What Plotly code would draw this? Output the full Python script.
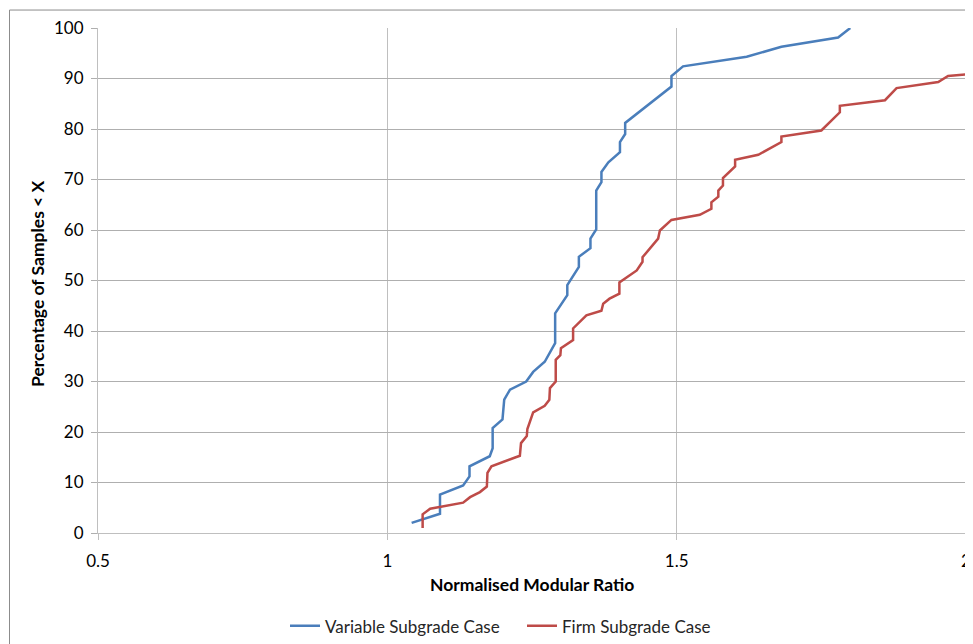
import plotly.graph_objects as go

# Variable Subgrade Case (blue)
var_x = [1.042, 1.091, 1.091, 1.131, 1.142, 1.142, 1.177, 1.182, 1.182, 1.199, 1.202,
         1.212, 1.240, 1.252, 1.272, 1.290, 1.290, 1.311, 1.311, 1.331, 1.331, 1.351,
         1.351, 1.361, 1.361, 1.370, 1.370, 1.382, 1.402, 1.402, 1.411, 1.411, 1.491,
         1.491, 1.511, 1.621, 1.681, 1.779, 1.800]
var_y = [2.0, 3.8, 7.6, 9.4, 11.2, 13.2, 15.2, 16.8, 20.8, 22.5, 26.4,
         28.4, 30.0, 31.9, 33.9, 37.6, 43.5, 47.1, 49.1, 52.7, 54.7, 56.4,
         58.3, 60.1, 67.8, 69.5, 71.5, 73.4, 75.4, 77.4, 79.0, 81.2, 88.4,
         90.5, 92.4, 94.3, 96.3, 98.1, 100.0]

# Firm Subgrade Case (red)
firm_x = [1.061, 1.061, 1.074, 1.131, 1.143, 1.160, 1.172, 1.173, 1.180, 1.229, 1.231,
          1.241, 1.242, 1.252, 1.272, 1.280, 1.281, 1.291, 1.291, 1.299, 1.300, 1.316,
          1.321, 1.321, 1.344, 1.370, 1.373, 1.384, 1.401, 1.401, 1.419, 1.431, 1.441,
          1.441, 1.468, 1.471, 1.491, 1.540, 1.560, 1.560, 1.572, 1.572, 1.580, 1.580,
          1.601, 1.601, 1.641, 1.681, 1.681, 1.750, 1.782, 1.782, 1.860, 1.880, 1.952,
          1.969, 2.000]
firm_y = [1.0, 3.7, 4.8, 6.0, 7.1, 8.1, 9.2, 11.9, 13.2, 15.3, 17.8,
          19.2, 20.6, 23.9, 25.2, 26.4, 28.7, 30.0, 34.3, 35.2, 36.6, 37.9,
          38.2, 40.5, 43.1, 44.0, 45.4, 46.4, 47.4, 49.6, 51.0, 52.0, 53.7,
          54.6, 58.3, 59.9, 62.0, 63.0, 64.2, 65.5, 66.6, 67.8, 68.8, 70.3,
          72.6, 73.9, 74.9, 77.4, 78.5, 79.7, 83.3, 84.6, 85.7, 88.1, 89.3,
          90.5, 90.8]

x_ticks = [0.5, 1, 1.5, 2]
x_tick_labels = ["0.5", "1", "1.5", "2"]
y_ticks = list(range(0, 101, 10))

FONT = "Lato, 'Open Sans', sans-serif"

fig = go.Figure()
fig.add_trace(go.Scatter(x=var_x, y=var_y, mode="lines", name="Variable Subgrade Case",
                         line=dict(color="#4A7EBB", width=2.5)))
fig.add_trace(go.Scatter(x=firm_x, y=firm_y, mode="lines", name="Firm Subgrade Case",
                         line=dict(color="#BE4B48", width=2.5)))

# page body has an 8px default margin, so the figure starts at (8, 8)
OFF = 8
W, H = 973 - OFF, 644 - OFF
L, R, T, B = 98 - OFF, 7, 27.5 - OFF, 110.5
pw = W - L - R
ph = H - T - B

def px_to_paper_x(px):
    return (px - OFF - L) / pw

def px_to_paper_y(py):
    return (H - B - (py - OFF)) / ph

fig.update_layout(
    width=W, height=H,
    margin=dict(l=L, r=R, t=T, b=B, autoexpand=False),
    paper_bgcolor="white", plot_bgcolor="white",
    font=dict(family=FONT, size=17, color="#000000"),
    showlegend=True,
    legend=dict(orientation="h", x=px_to_paper_x(285), xanchor="left",
                y=px_to_paper_y(627), yanchor="middle",
                font=dict(family=FONT, size=17, color="#262626"),
                entrywidth=192, entrywidthmode="pixels",
                itemwidth=30, tracegroupgap=0, bgcolor="rgba(0,0,0,0)"),
    xaxis=dict(range=[0.5, 2], tickvals=x_ticks, ticktext=x_tick_labels,
               showgrid=True, gridcolor="#BFBFBF", gridwidth=1,
               showline=True, linecolor="#BFBFBF", linewidth=1,
               ticks="outside", ticklen=6, tickcolor="#BFBFBF",
               ticklabelstandoff=7, automargin=False,
               zeroline=False, tickfont=dict(size=17, color="#000000")),
    yaxis=dict(range=[0, 100], tickvals=y_ticks,
               showgrid=True, gridcolor="#AFAFAF", gridwidth=1,
               showline=True, linecolor="#BFBFBF", linewidth=1,
               ticks="outside", ticklen=6, tickcolor="#AFAFAF",
               ticklabelstandoff=4, automargin=False,
               zeroline=False, tickfont=dict(size=17, color="#000000")),
    annotations=[
        dict(text="<b>Normalised Modular Ratio</b>", xref="paper", yref="paper",
             x=0.5, y=px_to_paper_y(585), xanchor="center", yanchor="middle",
             showarrow=False, font=dict(family=FONT, size=17.5, color="#000000")),
        dict(text="<b>Percentage of Samples < X</b>", xref="paper", yref="paper",
             x=px_to_paper_x(38), y=px_to_paper_y(284), xanchor="center", yanchor="middle",
             textangle=-90, showarrow=False,
             font=dict(family=FONT, size=17.5, color="#000000")),
    ],
    shapes=[
        dict(type="line", xref="paper", yref="paper",
             x0=px_to_paper_x(9.5), x1=px_to_paper_x(980),
             y0=px_to_paper_y(9.5), y1=px_to_paper_y(9.5),
             line=dict(color="#8C8C8C", width=1), layer="above"),
        dict(type="line", xref="paper", yref="paper",
             x0=px_to_paper_x(9.5), x1=px_to_paper_x(9.5),
             y0=px_to_paper_y(9.5), y1=px_to_paper_y(650),
             line=dict(color="#8C8C8C", width=1), layer="above"),
    ],
)

fig.write_html("out.html")
